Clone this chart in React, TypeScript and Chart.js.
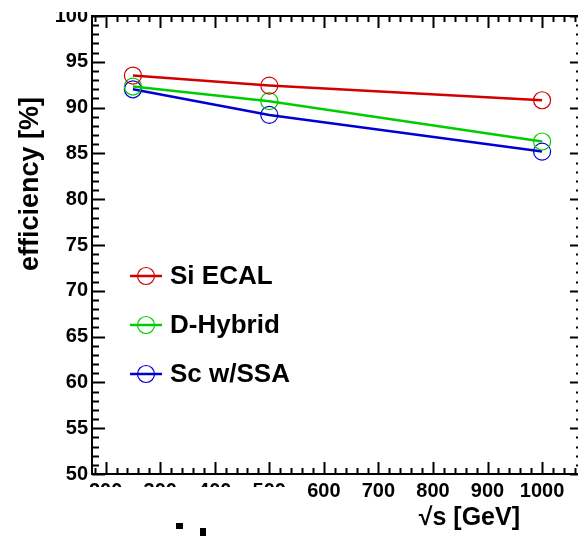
import React, { useEffect, useRef } from 'react';
import { Chart, registerables } from 'chart.js';

Chart.register(...registerables);

// ---- data ----
const energies = [250, 500, 1000];
const seriesNames = ['Si ECAL', 'D-Hybrid', 'Sc w/SSA'];
const siEcal = [93.5, 92.4, 90.8];
const dHybrid = [92.3, 90.7, 86.3];
const scSSA = [92.0, 89.2, 85.2];
const seriesColors = ['rgb(210,0,0)', 'rgb(0,205,0)', 'rgb(0,0,210)'];
const xTickValues = [200, 300, 400, 500, 600, 700, 800, 900, 1000];
const yTickValues = [50, 55, 60, 65, 70, 75, 80, 85, 90, 95, 100];
const xRange = [175, 1075];
const yRange = [50, 100];
const xTitle = '√s [GeV]';
const yTitle = 'efficiency [%]';

const FONT = '"Liberation Sans", Arial, Helvetica, sans-serif';

const framePlugin = {
  id: 'rootFrame',
  afterDraw(chart: any) {
    const { ctx, chartArea: a } = chart;
    const xs = chart.scales.x;
    const ys = chart.scales.y;
    ctx.save();
    ctx.strokeStyle = '#000';
    ctx.lineWidth = 2;
    ctx.strokeRect(a.left, a.top, a.right - a.left, a.bottom - a.top);

    // x ticks (inward), minor every 20, major every 100
    for (let v = Math.ceil(xRange[0] / 20) * 20; v <= xRange[1]; v += 20) {
      const px = Math.round(xs.getPixelForValue(v)) + 0.5;
      const len = v % 100 === 0 ? 12 : 6;
      ctx.lineWidth = 2;
      ctx.beginPath();
      ctx.moveTo(px, a.bottom);
      ctx.lineTo(px, a.bottom - len);
      ctx.moveTo(px, a.top);
      ctx.lineTo(px, a.top + len);
      ctx.stroke();
    }
    // y ticks (inward), minor every 1, major every 5
    for (let v = yRange[0]; v <= yRange[1]; v += 1) {
      const py = Math.round(ys.getPixelForValue(v)) + 0.5;
      const len = v % 5 === 0 ? 13 : 7;
      ctx.lineWidth = 2;
      ctx.beginPath();
      ctx.moveTo(a.left, py);
      ctx.lineTo(a.left + len, py);
      ctx.moveTo(a.right, py);
      ctx.lineTo(a.right - len, py);
      ctx.stroke();
    }

    // axis titles
    ctx.fillStyle = '#000';
    ctx.font = `bold 25px ${FONT}`;
    ctx.textBaseline = 'middle';
    ctx.textAlign = 'right';
    ctx.fillText(xTitle, 520, 518);
    ctx.save();
    ctx.translate(31, 184);
    ctx.rotate(-Math.PI / 2);
    ctx.textAlign = 'center';
    ctx.font = `bold 27px ${FONT}`;
    ctx.fillText(yTitle, 0, 0);
    ctx.restore();

    // legend
    chart.data.datasets.forEach((ds: any, i: number) => {
      const cy = 276 + i * 49;
      ctx.strokeStyle = ds.borderColor;
      ctx.lineWidth = 2.5;
      ctx.beginPath();
      ctx.moveTo(130, cy);
      ctx.lineTo(162, cy);
      ctx.stroke();
      ctx.lineWidth = 1.2;
      ctx.beginPath();
      ctx.arc(146, cy, 8.5, 0, Math.PI * 2);
      ctx.stroke();
      ctx.fillStyle = '#000';
      ctx.font = `bold 26px ${FONT}`;
      ctx.textAlign = 'left';
      ctx.textBaseline = 'middle';
      ctx.fillText(ds.label, 170, cy + 1);
    });

    // cropping artefacts of the source figure
    ctx.fillStyle = '#fff';
    ctx.fillRect(0, 487, 300, 60);
    ctx.fillRect(0, 0, a.left - 1, 12);
    ctx.fillStyle = '#000';
    ctx.fillRect(176, 523, 7, 6);
    ctx.fillRect(200, 528, 6, 8);
    ctx.restore();
  },
};

export default function App() {
  const ref = useRef<HTMLCanvasElement | null>(null);
  useEffect(() => {
    if (!ref.current) return;
    const series = [siEcal, dHybrid, scSSA];
    const chart = new Chart(ref.current, {
      type: 'line',
      data: {
        datasets: series.map((vals, i) => ({
          label: seriesNames[i],
          data: energies.map((e, j) => ({ x: e, y: vals[j] })),
          borderColor: seriesColors[i],
          borderWidth: 2.5,
          pointRadius: 8.5,
          pointBorderWidth: 1.2,
          pointBorderColor: seriesColors[i],
          pointBackgroundColor: 'rgba(0,0,0,0)',
          tension: 0,
          fill: false,
        })),
      },
      options: {
        animation: false,
        responsive: false,
        devicePixelRatio: 1,
        layout: { padding: { top: 12, right: 17, left: 0, bottom: 0 } },
        plugins: { legend: { display: false }, tooltip: { enabled: false } },
        scales: {
          x: {
            type: 'linear',
            min: xRange[0],
            max: xRange[1],
            afterBuildTicks: (s: any) => {
              s.ticks = xTickValues.map((v) => ({ value: v }));
            },
            afterFit: (s: any) => {
              s.height = 62;
            },
            grid: { display: false, drawTicks: false },
            border: { display: false },
            ticks: {
              padding: 5,
              color: '#000',
              font: { family: FONT, size: 20, weight: 'bold' },
              maxRotation: 0,
              autoSkip: false,
              callback: (v: any) => String(v),
            },
          },
          y: {
            type: 'linear',
            min: yRange[0],
            max: yRange[1],
            afterBuildTicks: (s: any) => {
              s.ticks = yTickValues.map((v) => ({ value: v }));
            },
            afterFit: (s: any) => {
              s.width = 92;
            },
            grid: { display: false, drawTicks: false },
            border: { display: false },
            ticks: {
              padding: 4,
              color: '#000',
              font: { family: FONT, size: 20, weight: 'bold' },
              autoSkip: false,
              callback: (v: any) => String(v),
            },
          },
        },
      },
      plugins: [framePlugin],
    } as any);
    return () => chart.destroy();
  }, []);

  return (
    <div
      style={{
        position: 'absolute',
        left: 0,
        top: 0,
        width: 578,
        height: 536,
        overflow: 'hidden',
        background: '#fff',
      }}
    >
      <canvas ref={ref} width={600} height={536} style={{ display: 'block', width: 600, height: 536 }} />
    </div>
  );
}
